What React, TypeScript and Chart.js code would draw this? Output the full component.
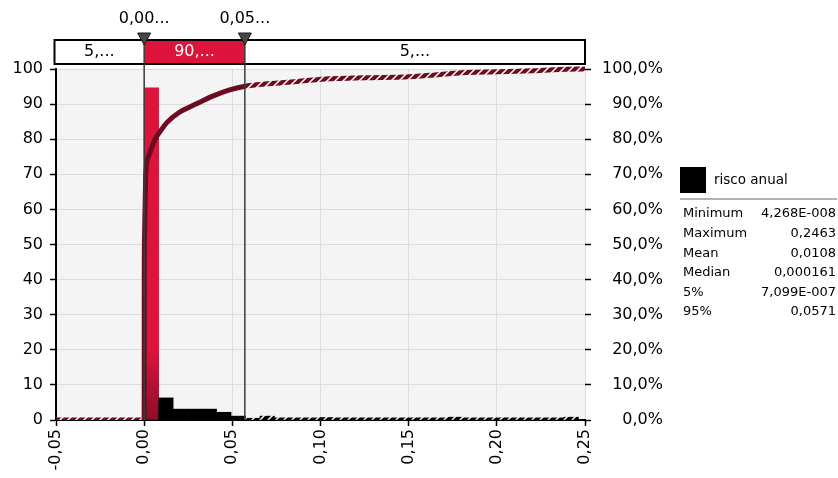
import React, { useEffect, useRef } from 'react';
import { Chart, registerables } from 'chart.js';

Chart.register(...registerables);

// ---- data ----
const histCenters = [
  0.00411, 0.01232, 0.02053, 0.02874, 0.03695, 0.04516, 0.05337, 0.06158, 0.06979, 0.078,
  0.08621, 0.09442, 0.10263, 0.11084, 0.11905, 0.12726, 0.13547, 0.14368, 0.15189, 0.1601,
  0.16831, 0.17652, 0.18473, 0.19294, 0.20115, 0.20936, 0.21757, 0.22578, 0.23399, 0.2422,
];
const histValues = [
  94.6, 6.3, 3.1, 3.1, 3.1, 2.2, 1.1, 0.5, 1.1, 0.6,
  0.6, 0.6, 0.7, 0.6, 0.6, 0.6, 0.6, 0.6, 0.6, 0.6,
  0.6, 0.8, 0.6, 0.6, 0.6, 0.6, 0.6, 0.6, 0.6, 0.8,
];
const cumX = [
  -0.05, 0, 0.00005, 0.0002, 0.0005, 0.00095, 0.0028, 0.0057, 0.0095, 0.013, 0.0198, 0.0293,
  0.0385, 0.048, 0.0571, 0.07, 0.0879, 0.105, 0.125, 0.15, 0.165, 0.18, 0.2, 0.22, 0.2463, 0.25,
];
const cumY = [
  0, 0, 40, 52, 60, 70.4, 75.5, 79.5, 82.5, 84.8, 87.6, 90,
  92.2, 94, 95.1, 95.8, 96.5, 97.2, 97.5, 97.8, 98.3, 98.9, 99.2, 99.5, 100, 100,
];
const xTicks = { min: -0.05, max: 0.25, step: 0.05 };
const yTicks = { min: 0, max: 100, step: 10 };
const lowDelim = 7.099e-7;
const highDelim = 0.0571;
const delimLabels = ['0,00...', '0,05...'];
const bandLabels = ['5,...', '90,...', '5,...'];
const seriesName = 'risco anual';
const statLabels = ['Minimum', 'Maximum', 'Mean', 'Median', '5%', '95%'];
const statValues = ['4,268E-008', '0,2463', '0,0108', '0,000161', '7,099E-007', '0,0571'];

const FONT = 'DejaVu Sans';
const CRIMSON = '#dc143c';
const MAROON = '#6b0c20';

function makeHatch(base: string): CanvasPattern | string {
  const c = document.createElement('canvas');
  c.width = 8;
  c.height = 8;
  const g = c.getContext('2d');
  if (!g) return base;
  g.fillStyle = base;
  g.fillRect(0, 0, 8, 8);
  g.strokeStyle = '#ffffff';
  g.lineWidth = 1.5;
  const seg = (x1: number, y1: number, x2: number, y2: number) => {
    g.beginPath();
    g.moveTo(x1, y1);
    g.lineTo(x2, y2);
    g.stroke();
  };
  seg(-2, 10, 10, -2);
  seg(-2, 2, 2, -2);
  seg(6, 10, 10, 6);
  return g.createPattern(c, 'repeat') || base;
}

const fmt2 = (v: number) => {
  const r = Math.round(v * 100) / 100;
  const s = (Math.abs(r) < 1e-9 ? 0 : r).toFixed(2);
  return s.replace('.', ',');
};

export default function App() {
  const ref = useRef<HTMLCanvasElement>(null);

  useEffect(() => {
    const canvas = ref.current;
    if (!canvas) return;
    const lineHatch = makeHatch(MAROON);
    const barHatch = makeHatch('#000000');

    const overlay = {
      id: 'overlay',
      beforeDraw(chart: any) {
        const { ctx, chartArea } = chart;
        ctx.save();
        ctx.fillStyle = '#f4f4f4';
        ctx.fillRect(chartArea.left, chartArea.top, chartArea.right - chartArea.left, chartArea.bottom - chartArea.top);
        ctx.restore();
      },
      afterDatasetsDraw(chart: any) {
        const { ctx, chartArea } = chart;
        const xs = chart.scales.x;
        const d1 = xs.getPixelForValue(lowDelim);
        const d2 = xs.getPixelForValue(highDelim);
        const boxL = chartArea.left - 1.5;
        const boxR = chartArea.right;
        const boxT = 40;
        const boxB = 64;
        ctx.save();
        // band box
        ctx.fillStyle = '#ffffff';
        ctx.fillRect(boxL, boxT, boxR - boxL, boxB - boxT);
        ctx.fillStyle = CRIMSON;
        ctx.fillRect(d1, boxT, d2 - d1, boxB - boxT);
        ctx.strokeStyle = '#000';
        ctx.lineWidth = 2;
        ctx.strokeRect(boxL, boxT, boxR - boxL, boxB - boxT);
        ctx.font = `16px "${FONT}"`;
        ctx.textAlign = 'center';
        ctx.textBaseline = 'middle';
        ctx.fillStyle = '#000';
        ctx.fillText(bandLabels[0], (boxL + d1) / 2, 52);
        ctx.fillStyle = '#fff';
        ctx.fillText(bandLabels[1], (d1 + d2) / 2, 52);
        ctx.fillStyle = '#000';
        ctx.fillText(bandLabels[2], (d2 + boxR) / 2, 52);
        // delimiter lines
        ctx.strokeStyle = '#3a3a3a';
        ctx.lineWidth = 1.5;
        [d1, d2].forEach((d) => {
          ctx.beginPath();
          ctx.moveTo(d, boxT);
          ctx.lineTo(d, chartArea.bottom);
          ctx.stroke();
        });
        // triangles + labels
        [d1, d2].forEach((d, i) => {
          ctx.beginPath();
          ctx.moveTo(d - 6.5, 33);
          ctx.lineTo(d + 6.5, 33);
          ctx.lineTo(d, 45);
          ctx.closePath();
          ctx.fillStyle = '#474747';
          ctx.fill();
          ctx.strokeStyle = '#1a1a1a';
          ctx.lineWidth = 1;
          ctx.stroke();
          ctx.fillStyle = '#000';
          ctx.font = `16px "${FONT}"`;
          ctx.textAlign = 'center';
          ctx.textBaseline = 'middle';
          ctx.fillText(delimLabels[i], d, 19);
        });
        // legend
        ctx.fillStyle = '#000';
        ctx.fillRect(680, 167, 26, 26);
        ctx.font = `13.5px "${FONT}"`;
        ctx.textAlign = 'left';
        ctx.textBaseline = 'middle';
        ctx.fillText(seriesName, 714, 180);
        ctx.strokeStyle = '#9a9a9a';
        ctx.lineWidth = 1.5;
        ctx.beginPath();
        ctx.moveTo(680, 199);
        ctx.lineTo(837, 199);
        ctx.stroke();
        ctx.font = `13px "${FONT}"`;
        statLabels.forEach((lab, i) => {
          const y = 214 + i * 19.6;
          ctx.textAlign = 'left';
          ctx.fillText(lab, 683, y);
          ctx.textAlign = 'right';
          ctx.fillText(statValues[i], 836, y);
        });
        ctx.restore();
      },
    };

    const barData = histCenters.map((x, i) => ({ x, y: histValues[i] }));
    const lineData = cumX.map((x, i) => ({ x, y: cumY[i] }));

    const chart = new Chart(canvas, {
      type: 'bar',
      data: {
        datasets: [
          {
            type: 'line',
            data: lineData,
            xAxisID: 'x',
            yAxisID: 'y2',
            borderColor: MAROON,
            borderWidth: 5,
            pointRadius: 0,
            cubicInterpolationMode: 'monotone',
            order: 0,
            clip: { left: 3, top: 4, right: 3, bottom: 0 } as any,
            segment: {
              borderColor: (c: any) =>
                c.p1.parsed.x <= 0 || c.p0.parsed.x >= highDelim - 1e-9 ? (lineHatch as any) : MAROON,
            },
          } as any,
          {
            type: 'bar',
            data: barData,
            xAxisID: 'x',
            yAxisID: 'y',
            barPercentage: 1,
            categoryPercentage: 1,
            borderWidth: 0,
            order: 1,
            backgroundColor: (c: any) => {
              const i = c.dataIndex;
              if (i === 0) {
                const area = c.chart.chartArea;
                if (!area) return CRIMSON;
                const g = c.chart.ctx.createLinearGradient(0, area.top, 0, area.bottom);
                g.addColorStop(0, CRIMSON);
                g.addColorStop(0.8, CRIMSON);
                g.addColorStop(1, '#8c0e2a');
                return g;
              }
              if (histCenters[i] > highDelim) return barHatch;
              return '#000000';
            },
          } as any,
        ],
      },
      options: {
        animation: false,
        responsive: false,
        devicePixelRatio: 1,
        layout: { padding: { top: 69, right: 175, left: 0, bottom: 0 } },
        plugins: { legend: { display: false }, tooltip: { enabled: false } },
        scales: {
          x: {
            type: 'linear',
            position: 'bottom',
            min: xTicks.min,
            max: xTicks.max,
            offset: false,
            grid: { color: '#dcdcdc', lineWidth: 1, offset: false, tickLength: 6, tickColor: '#000', tickWidth: 1.5 },
            border: { display: true, color: '#000', width: 2 },
            ticks: {
              stepSize: xTicks.step,
              autoSkip: false,
              minRotation: 90,
              maxRotation: 90,
              padding: 3,
              color: '#000',
              font: { family: FONT, size: 16 },
              callback: (v: any) => fmt2(Number(v)),
            },
            afterFit: (s: any) => {
              s.height = 58;
            },
          },
          y: {
            type: 'linear',
            position: 'left',
            min: yTicks.min,
            max: yTicks.max,
            grid: { color: '#dcdcdc', lineWidth: 1, tickLength: 6, tickColor: '#000', tickWidth: 1.5 },
            border: { display: true, color: '#000', width: 2 },
            ticks: {
              stepSize: yTicks.step,
              padding: 7,
              color: '#000',
              font: { family: FONT, size: 16 },
            },
            afterFit: (s: any) => {
              s.width = 56;
            },
          },
          y2: {
            type: 'linear',
            position: 'right',
            min: yTicks.min,
            max: yTicks.max,
            grid: { drawOnChartArea: false, tickLength: 6, tickColor: '#000', tickWidth: 1.5 },
            border: { display: false },
            ticks: {
              stepSize: yTicks.step,
              padding: 6,
              crossAlign: 'far',
              color: '#000',
              font: { family: FONT, size: 16 },
              callback: (v: any) => `${Math.round(Number(v))},0%`,
            },
            afterFit: (s: any) => {
              s.width = 78;
            },
          },
        },
      } as any,
      plugins: [overlay],
    });
    return () => chart.destroy();
  }, []);

  return (
    <div style={{ position: 'fixed', left: 0, top: 0, width: 838, height: 478, background: '#fff' }}>
      <canvas ref={ref} width={838} height={478} style={{ width: 838, height: 478, display: 'block' }} />
    </div>
  );
}
